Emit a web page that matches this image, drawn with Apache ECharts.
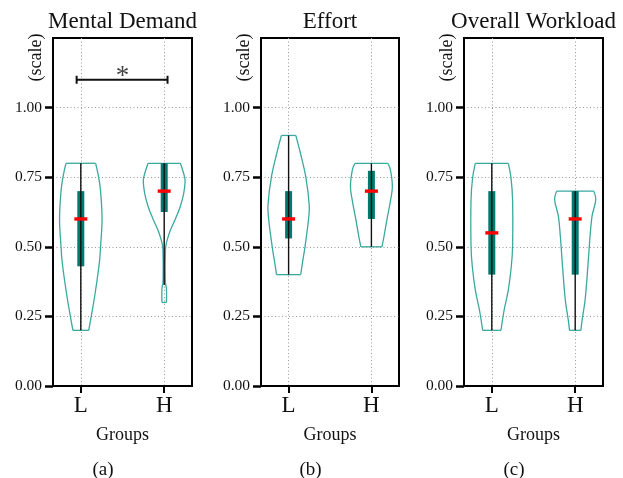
<!DOCTYPE html>
<html>
<head>
<meta charset="utf-8">
<script src="https://cdn.jsdelivr.net/npm/echarts@6/dist/echarts.min.js"></script>
<style>
html, body { margin: 0; padding: 0; background: #fff; }
#main { width: 623px; height: 478px; }
</style>
</head>
<body>
<div id="main"></div>
<script>
// categories / labels
var groups = ['L', 'H']
var titles = ['Mental Demand', 'Effort', 'Overall Workload']
var subLabels = ['(a)', '(b)', '(c)']
var yTicks = [0, 0.25, 0.5, 0.75, 1]

// violin outlines: [value, half width in group units]
var mentalL = [[0.20, 0.095], [0.25, 0.125], [0.30, 0.154], [0.37, 0.19], [0.45, 0.225], [0.50, 0.237], [0.60, 0.255], [0.70, 0.237], [0.75, 0.214], [0.80, 0.178]]
var mentalH = [[0.30, 0.027], [0.35, 0.027], [0.37, 0.015], [0.42, 0.012], [0.47, 0.014], [0.50, 0.018], [0.525, 0.036], [0.56, 0.075], [0.60, 0.134], [0.645, 0.193], [0.69, 0.233], [0.73, 0.25], [0.75, 0.245], [0.80, 0.194]]
var effortL = [[0.40, 0.146], [0.44, 0.166], [0.50, 0.198], [0.60, 0.241], [0.65, 0.249], [0.75, 0.208], [0.837, 0.142], [0.90, 0.087]]
var effortH = [[0.50, 0.127], [0.537, 0.152], [0.597, 0.187], [0.657, 0.225], [0.717, 0.253], [0.777, 0.229], [0.80, 0.198]]
var overallL = [[0.20, 0.110], [0.273, 0.148], [0.345, 0.198], [0.43, 0.234], [0.50, 0.249], [0.67, 0.249], [0.75, 0.229], [0.80, 0.198]]
var overallH = [[0.20, 0.068], [0.237, 0.083], [0.31, 0.119], [0.43, 0.152], [0.537, 0.178], [0.61, 0.202], [0.67, 0.247], [0.70, 0.223]]

// box stats per panel, [L, H]
var q1 = [[0.43, 0.625], [0.53, 0.60], [0.40, 0.40]]
var q3 = [[0.70, 0.80], [0.70, 0.773], [0.70, 0.70]]
var medians = [[0.60, 0.70], [0.60, 0.70], [0.55, 0.60]]
var whiskLo = [[0.20, 0.3625], [0.40, 0.50], [0.20, 0.20]]
var whiskHi = [[0.80, 0.80], [0.90, 0.80], [0.80, 0.70]]

// significance bracket on (a)
var sigLine = [[-0.05, 1.10], [1.04, 1.10]]
var sigStar = [[0.5, 1.10]]

var profiles = [[mentalL, mentalH], [effortL, effortH], [overallL, overallH]]

var font = "'Liberation Serif', 'Times New Roman', serif"
var outlineColor = '#3aa99f'
var boxColor = '#00796e'

var gridPos = [53, 261, 464]
var gridW = [139, 138, 139]

function violinRender(p) {
	return function (params, api) {
		var idx = api.value(1)
		var x = api.value(0)
		var prof = profiles[p][idx]
		var leftPts = prof.map(function (d) { return api.coord([x - d[1], d[0]]) })
		var rightPts = prof.map(function (d) { return api.coord([x + d[1], d[0]]) })
		var n = prof.length - 1
		var lineStyle = { stroke: outlineColor, lineWidth: 1.3, fill: null }
		var lo = api.coord([x, whiskLo[p][idx]])
		var hi = api.coord([x, whiskHi[p][idx]])
		var b1 = api.coord([x, q1[p][idx]])
		var b3 = api.coord([x, q3[p][idx]])
		var md = api.coord([x, medians[p][idx]])
		return {
			type: 'group',
			children: [
				{ type: 'polyline', shape: { points: leftPts, smooth: 0.35 }, style: lineStyle },
				{ type: 'polyline', shape: { points: rightPts, smooth: 0.35 }, style: lineStyle },
				{ type: 'line', shape: { x1: leftPts[0][0], y1: leftPts[0][1], x2: rightPts[0][0], y2: rightPts[0][1] }, style: lineStyle },
				{ type: 'line', shape: { x1: leftPts[n][0], y1: leftPts[n][1], x2: rightPts[n][0], y2: rightPts[n][1] }, style: lineStyle },
				{ type: 'rect', shape: { x: b3[0] - 3.5, y: b3[1], width: 7, height: b1[1] - b3[1] }, style: { fill: boxColor } },
				{ type: 'line', shape: { x1: lo[0], y1: lo[1], x2: hi[0], y2: hi[1] }, style: { stroke: '#111', lineWidth: 1.4 } },
				{ type: 'rect', shape: { x: md[0] - 6.5, y: md[1] - 1.7, width: 13, height: 3.4 }, style: { fill: '#ff0000' } }
			]
		}
	}
}

var grids = [], xAxes = [], yAxes = [], series = [], titleList = [], graphics = []

for (var p = 0; p < 3; p++) {
	grids.push({ left: gridPos[p], top: 38, width: gridW[p], height: 348, show: true, borderColor: '#000', borderWidth: 2, backgroundColor: '#fff' })
	xAxes.push({
		gridIndex: p, type: 'value', min: -1 / 3, max: 4 / 3,
		name: 'Groups', nameLocation: 'middle', nameGap: 40,
		nameTextStyle: { fontFamily: font, fontSize: 18, color: '#111' },
		axisLine: { show: true, onZero: false, lineStyle: { color: '#000', width: 2 } },
		axisTick: { show: true, customValues: [0, 1], length: 7, lineStyle: { color: '#000', width: 2 } },
		axisLabel: {
			customValues: [0, 1], margin: 8, fontFamily: font, fontSize: 23, color: '#111',
			formatter: function (v) { return groups[Math.round(v)] }
		},
		splitLine: { show: true, lineStyle: { color: '#999', type: [1, 2.5], width: 1 } }
	})
	yAxes.push({
		gridIndex: p, type: 'value', min: 0, max: 1.25,
		axisLine: { show: true, onZero: false, lineStyle: { color: '#000', width: 2 } },
		axisTick: { show: true, customValues: yTicks, length: 8, lineStyle: { color: '#000', width: 2.5 } },
		axisLabel: {
			customValues: yTicks, margin: 11, fontFamily: font, fontSize: 15.5, color: '#111',
			formatter: function (v) { return v.toFixed(2) }
		},
		splitLine: { show: true, lineStyle: { color: '#999', type: [1, 2.5], width: 1 } }
	})
	series.push({
		type: 'custom', xAxisIndex: p, yAxisIndex: p,
		renderItem: violinRender(p),
		data: [[0, 0], [1, 1]],
		z: 3
	})
	var cx = gridPos[p] + gridW[p] / 2
	titleList.push({
		text: titles[p], left: cx, top: 10, textAlign: 'center', padding: 0,
		textStyle: { fontFamily: font, fontSize: 23, fontWeight: 'normal', color: '#111' }
	})
	graphics.push({
		type: 'text', x: gridPos[p] - 17, y: 57.5, rotation: Math.PI / 2,
		style: { text: '(scale)', fontFamily: font, fontSize: 18, fill: '#111', align: 'center', verticalAlign: 'middle' }
	})
	graphics.push({
		type: 'text', x: cx - 19.5, y: 470,
		style: { text: subLabels[p], fontFamily: font, fontSize: 19, fill: '#111', align: 'center', verticalAlign: 'middle' }
	})
}

series.push({
	type: 'line', xAxisIndex: 0, yAxisIndex: 0,
	data: sigLine,
	symbol: 'rect', symbolSize: [2, 8],
	itemStyle: { color: '#111' },
	lineStyle: { color: '#111', width: 2 },
	z: 4
})
series.push({
	type: 'scatter', xAxisIndex: 0, yAxisIndex: 0,
	data: sigStar, symbolSize: 0,
	label: { show: true, formatter: '*', position: 'top', distance: -11, fontFamily: font, fontSize: 27, color: '#111' },
	z: 4
})

var chart = echarts.init(document.getElementById('main'))
chart.setOption({
	animation: false,
	backgroundColor: '#fff',
	title: titleList,
	grid: grids,
	xAxis: xAxes,
	yAxis: yAxes,
	series: series,
	graphic: graphics
})
</script>
</body>
</html>
